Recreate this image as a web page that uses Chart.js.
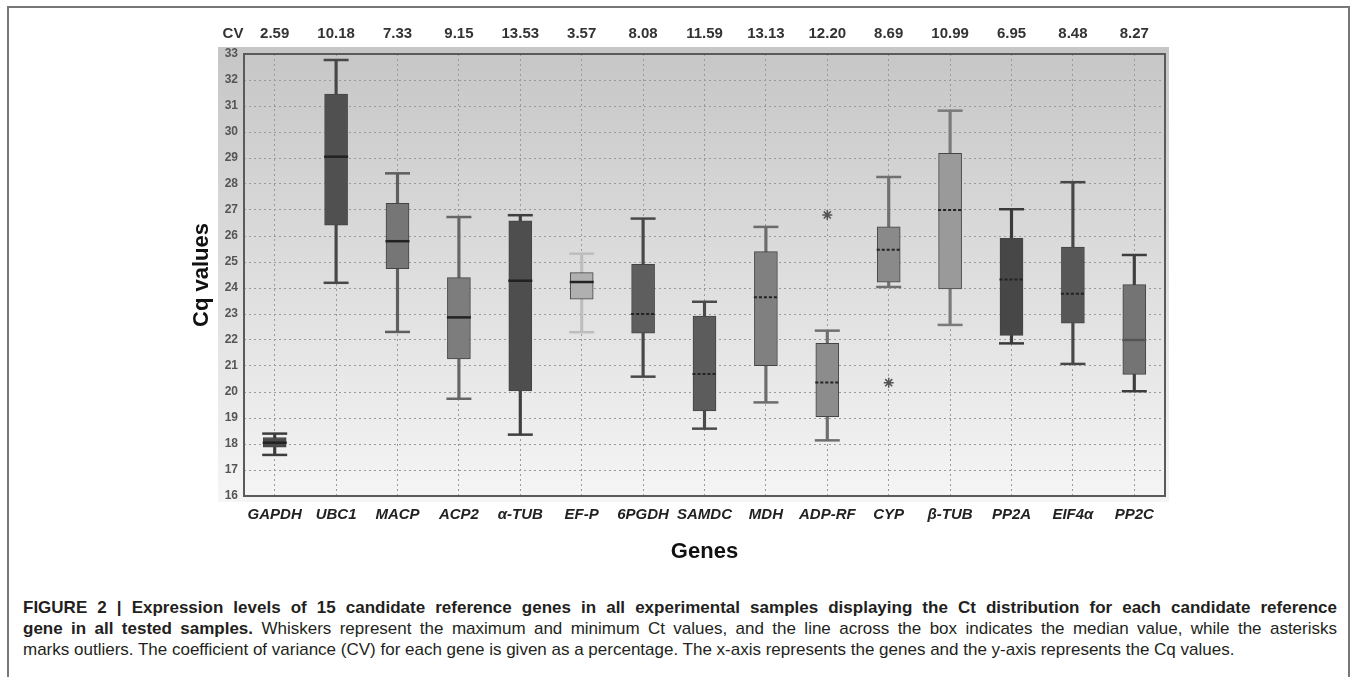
<!DOCTYPE html>
<html>
<head>
<meta charset="utf-8">
<script src="https://cdn.jsdelivr.net/npm/chart.js@4/dist/chart.umd.min.js"></script>
<style>
  html, body { margin: 0; padding: 0; background: #fff; }
  body { width: 1358px; height: 677px; position: relative; overflow: hidden; font-family: "Liberation Sans", Arial, sans-serif; }
  #frame { position: absolute; left: 7px; top: 6px; width: 1339px; height: 700px; border: 2px solid #777; border-bottom: none; }
  #wrap { position: absolute; left: 0; top: 0; width: 1358px; height: 570px; }
  #caption { position: absolute; left: 23px; top: 597px; width: 1314px; font-size: 17px; line-height: 21px; color: #231f20; }
  #caption div { white-space: nowrap; }
  #caption .j { text-align: justify; text-align-last: justify; }
  #caption b { font-weight: bold; }
</style>
</head>
<body>
<div id="frame"></div>
<div id="wrap"><canvas id="myChart"></canvas></div>
<div id="caption">
  <div class="j"><b>FIGURE 2 | Expression levels of 15 candidate reference genes in all experimental samples displaying the Ct distribution for each candidate reference</b></div>
  <div class="j"><b>gene in all tested samples.</b> Whiskers represent the maximum and minimum Ct values, and the line across the box indicates the median value, while the asterisks</div>
  <div>marks outliers. The coefficient of variance (CV) for each gene is given as a percentage. The x-axis represents the genes and the y-axis represents the Cq values.</div>
</div>
<script>
// data
const genes = ['GAPDH', 'UBC1', 'MACP', 'ACP2', 'α-TUB', 'EF-P', '6PGDH', 'SAMDC', 'MDH', 'ADP-RF', 'CYP', 'β-TUB', 'PP2A', 'EIF4α', 'PP2C'];
const cvValues = ['2.59', '10.18', '7.33', '9.15', '13.53', '3.57', '8.08', '11.59', '13.13', '12.20', '8.69', '10.99', '6.95', '8.48', '8.27'];
const minVals = [17.58, 24.2, 22.31, 19.74, 18.36, 22.3, 20.59, 18.59, 19.6, 18.14, 24.04, 22.58, 21.87, 21.08, 20.03];
const q1Vals = [17.88, 26.42, 24.74, 21.27, 20.04, 23.57, 22.26, 19.27, 21.01, 19.05, 24.22, 23.96, 22.18, 22.65, 20.68];
const medVals = [18.05, 29.05, 25.8, 22.87, 24.28, 24.23, 23.0, 20.69, 23.64, 20.37, 25.47, 27.0, 24.33, 23.78, 22.0];
const q3Vals = [18.25, 31.46, 27.26, 24.4, 26.58, 24.59, 24.91, 22.92, 25.4, 21.87, 26.35, 29.18, 25.91, 25.57, 24.13];
const maxVals = [18.4, 32.77, 28.41, 26.73, 26.8, 25.32, 26.67, 23.47, 26.35, 22.36, 28.27, 30.82, 27.03, 28.07, 25.27];
const outlierVals = [null, null, null, null, null, null, null, null, null, 26.81, 20.36, null, null, null, null];

// styles
const boxColors = ['#4a4a4a', '#505050', '#767676', '#7d7d7d', '#4e4e4e', '#b0b0b0', '#5e5e5e', '#5c5c5c', '#808080', '#8c8c8c', '#8a8a8a', '#9a9a9a', '#474747', '#575757', '#747474'];
const whiskerColors = ['#3c3c3c', '#474747', '#5e5e5e', '#666666', '#3f3f3f', '#bdbdbd', '#484848', '#4a4a4a', '#6c6c6c', '#6e6e6e', '#707070', '#7a7a7a', '#3a3a3a', '#474747', '#3e3e3e'];
const dottedMedian = [false, false, false, false, false, false, true, true, true, true, true, true, true, true, false];

const panelPlugin = {
  id: 'panel',
  beforeDraw(chart) {
    const {ctx, chartArea: a} = chart;
    const g = ctx.createLinearGradient(0, a.top - 7, 0, a.bottom + 6);
    g.addColorStop(0, '#c6c6c6');
    g.addColorStop(1, '#f5f5f5');
    ctx.save();
    ctx.fillStyle = g;
    ctx.fillRect(a.left - 26, a.top - 7, a.right - a.left + 30, a.bottom - a.top + 13);
    ctx.restore();
  },
  afterDatasetsDraw(chart) {
    const {ctx, chartArea: a} = chart;
    const x = chart.scales.x, y = chart.scales.y;
    ctx.save();
    // medians
    medVals.forEach((m, i) => {
      const px = x.getPixelForValue(i);
      const py = y.getPixelForValue(m);
      ctx.beginPath();
      ctx.lineWidth = dottedMedian[i] ? 2 : 2.5;
      ctx.strokeStyle = i === 14 ? '#555' : '#222';
      ctx.setLineDash(dottedMedian[i] ? [3, 2] : []);
      ctx.moveTo(px - 12, py);
      ctx.lineTo(px + 12, py);
      ctx.stroke();
    });
    ctx.setLineDash([]);
    // plot frame
    ctx.lineWidth = 2;
    ctx.strokeStyle = '#5a5a5a';
    ctx.strokeRect(a.left, a.top, a.right - a.left, a.bottom - a.top);
    // CV row
    ctx.fillStyle = '#333';
    ctx.font = 'bold 15px "Liberation Sans", Arial';
    ctx.textAlign = 'center';
    ctx.textBaseline = 'middle';
    ctx.fillText('CV', a.left - 11, 34);
    cvValues.forEach((v, i) => ctx.fillText(v, x.getPixelForValue(i), 34));
    ctx.restore();
  }
};

const ctx = document.getElementById('myChart').getContext('2d');
const myChart = new Chart(ctx, {
  type: 'bar',
  data: {
    labels: genes,
    datasets: [{
      label: 'whisker',
      data: genes.map((g, i) => [minVals[i], maxVals[i]]),
      backgroundColor: whiskerColors,
      barThickness: 2.5,
      grouped: false,
      order: 4
    }, {
      label: 'box',
      data: genes.map((g, i) => [q1Vals[i], q3Vals[i]]),
      backgroundColor: boxColors,
      borderColor: '#444',
      borderWidth: 1,
      borderSkipped: false,
      barThickness: 23,
      grouped: false,
      order: 3
    }, {
      type: 'line',
      label: 'max',
      data: maxVals,
      showLine: false,
      pointStyle: 'line',
      pointRadius: 12.5,
      pointBorderWidth: 2.5,
      pointBorderColor: whiskerColors,
      order: 2
    }, {
      type: 'line',
      label: 'min',
      data: minVals,
      showLine: false,
      pointStyle: 'line',
      pointRadius: 12.5,
      pointBorderWidth: 2.5,
      pointBorderColor: whiskerColors,
      order: 2
    }, {
      type: 'line',
      label: 'outlier',
      data: outlierVals,
      showLine: false,
      pointStyle: 'star',
      pointRadius: 5,
      pointBorderWidth: 1.5,
      pointBorderColor: '#555',
      order: 1
    }]
  },
  options: {
    responsive: true,
    maintainAspectRatio: false,
    animation: false,
    layout: { padding: { left: 180, right: 193, top: 54, bottom: 0 } },
    plugins: { legend: { display: false }, tooltip: { enabled: false } },
    scales: {
      x: {
        grid: { offset: false, color: '#9a9a9a', lineWidth: 1, drawTicks: false },
        border: { display: false, dash: [2, 3] },
        ticks: { padding: 10, minRotation: 0, maxRotation: 0, autoSkip: false, color: '#222', font: { family: '"Liberation Sans", Arial', size: 15, weight: 'bold', style: 'italic' } },
        title: { display: true, text: 'Genes', color: '#111', padding: { top: 0, bottom: 5 }, font: { family: '"Liberation Sans", Arial', size: 22, weight: 'bold' } },
        afterFit(scale) { scale.height = 74; }
      },
      y: {
        min: 16,
        max: 33,
        ticks: { stepSize: 1, padding: 6, color: '#555', font: { family: '"Liberation Sans", Arial', size: 12, weight: 'bold' } },
        grid: { color: '#9a9a9a', lineWidth: 1, drawTicks: false },
        border: { display: false, dash: [2, 3] },
        title: { display: true, text: 'Cq values', color: '#111', padding: { top: 9, bottom: 0 }, font: { family: '"Liberation Sans", Arial', size: 22, weight: 'bold' } },
        afterFit(scale) { scale.width = 64; }
      }
    }
  },
  plugins: [panelPlugin]
});
</script>
</body>
</html>
